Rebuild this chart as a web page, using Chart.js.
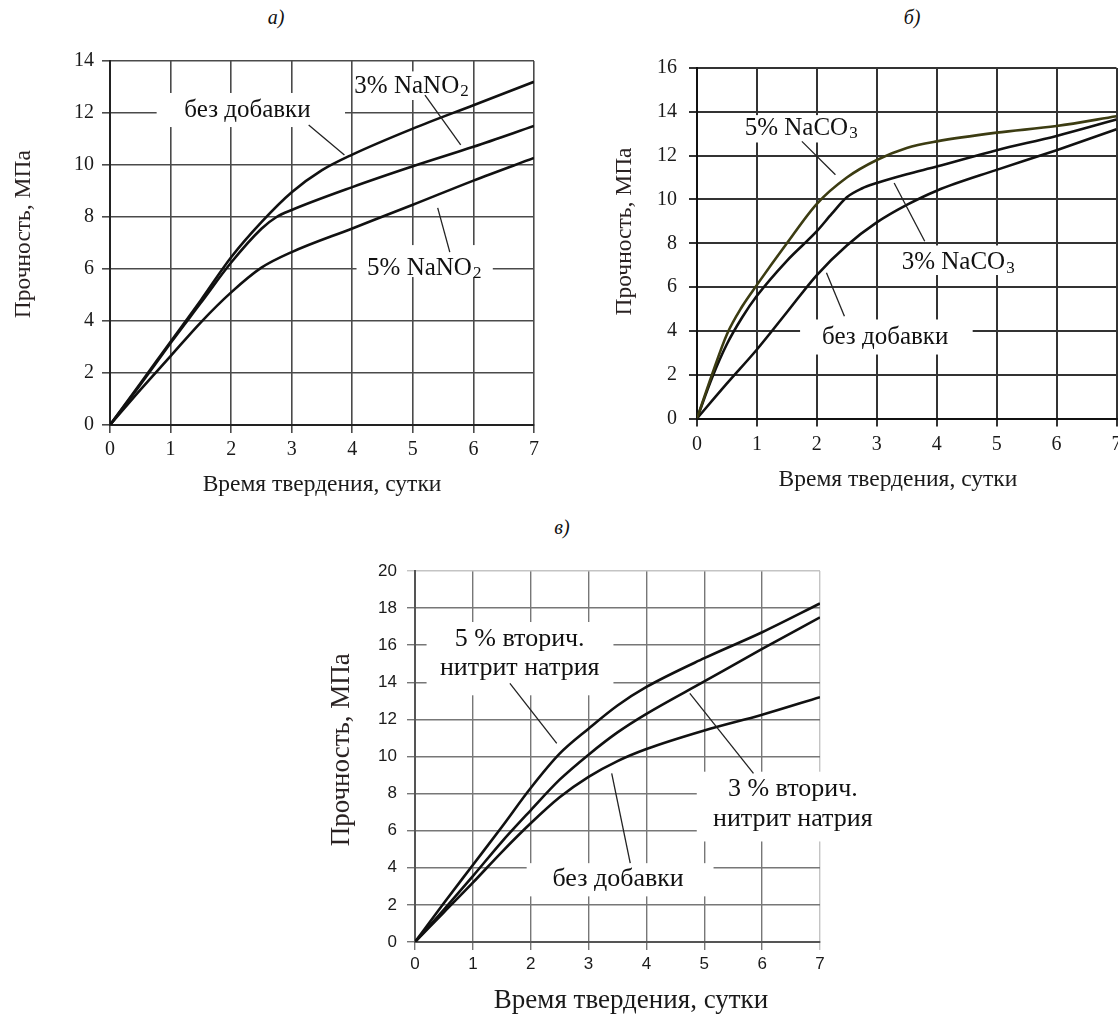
<!DOCTYPE html>
<html>
<head>
<meta charset="utf-8">
<script src="https://cdn.jsdelivr.net/npm/chart.js@4.4.1/dist/chart.umd.min.js"></script>
<style>
  body { margin: 0; width: 1118px; height: 1015px; overflow: hidden; background: #fff; position: relative; }
  canvas { position: absolute; }
  .cap { position: absolute; width: 80px; text-align: center; font: italic 20px 'Liberation Serif', serif; color: #111; }
</style>
</head>
<body>
<div class="cap" style="left:236px;top:6px">а)</div>
<div class="cap" style="left:872px;top:6px">б)</div>
<div class="cap" style="left:522px;top:516px">в)</div>
<canvas id="chA"></canvas>
<canvas id="chB"></canvas>
<canvas id="chC"></canvas>
<script>
const dayTicks = [0, 1, 2, 3, 4, 5, 6, 7];
const aTicks = [0, 2, 4, 6, 8, 10, 12, 14];
const bTicks = [0, 2, 4, 6, 8, 10, 12, 14, 16];
const cTicks = [0, 2, 4, 6, 8, 10, 12, 14, 16, 18, 20];

// а) NaNO2
const aNoneX = [0, 0.5, 1, 1.5, 2, 2.5, 3, 3.5, 4, 5, 6, 7];
const aNoneY = [0, 1.6, 3.2, 4.8, 6.45, 7.8, 8.95, 9.8, 10.4, 11.4, 12.3, 13.2];
const aN3X = [0, 0.5, 1, 1.5, 2, 2.5, 2.75, 3, 4, 5, 6, 7];
const aN3Y = [0, 1.55, 3.15, 4.7, 6.25, 7.55, 8.0, 8.27, 9.15, 9.95, 10.7, 11.5];
const aN5X = [0, 0.5, 1, 1.5, 2, 2.5, 3, 4, 5, 6, 7];
const aN5Y = [0, 1.35, 2.65, 3.95, 5.1, 6.05, 6.65, 7.56, 8.47, 9.4, 10.27];

// б) NaCO3
const bC5X = [0, 0.25, 0.5, 0.75, 1, 1.5, 2, 2.5, 3, 3.5, 4, 5, 6, 7];
const bC5Y = [0, 2.0, 3.85, 5.1, 6.1, 8.0, 9.8, 11.0, 11.8, 12.35, 12.65, 13.05, 13.35, 13.8];
const bC3X = [0, 0.25, 0.5, 0.75, 1, 1.5, 2, 2.25, 2.5, 2.75, 3, 3.5, 4, 5, 6, 7];
const bC3Y = [0, 1.85, 3.4, 4.6, 5.6, 7.2, 8.55, 9.35, 10.1, 10.5, 10.75, 11.15, 11.5, 12.25, 12.9, 13.65];
const bNoneX = [0, 0.5, 1, 1.5, 2, 2.5, 3, 3.5, 4, 5, 6, 7];
const bNoneY = [0, 1.6, 3.15, 4.85, 6.55, 7.9, 8.95, 9.75, 10.4, 11.35, 12.25, 13.2];

// в) secondary sodium nitrite
const cDays = [0, 0.5, 1, 1.5, 2, 2.5, 3, 3.5, 4, 5, 6, 7];
const cS5 = [0, 2.1, 4.15, 6.2, 8.3, 10.15, 11.5, 12.75, 13.75, 15.3, 16.7, 18.25];
const cS3 = [0, 1.75, 3.55, 5.4, 7.1, 8.75, 10.1, 11.3, 12.3, 14.05, 15.8, 17.5];
const cNone = [0, 1.6, 3.2, 4.85, 6.4, 7.8, 8.9, 9.75, 10.4, 11.4, 12.25, 13.2];

const serif = "'Liberation Serif', 'Times New Roman', serif";
const sans = "'Liberation Sans', Arial, sans-serif";

const notesPlugin = {
  id: 'notes',
  beforeDatasetsDraw(chart, args, o) {
    const { ctx } = chart, x = chart.scales.x, y = chart.scales.y;
    ctx.save();
    ctx.fillStyle = '#fff';
    for (const b of o.boxes) {
      const l = x.getPixelForValue(b[0]), r = x.getPixelForValue(b[1]);
      const t = y.getPixelForValue(b[3]), bt = y.getPixelForValue(b[2]);
      ctx.fillRect(l, t, r - l, bt - t);
    }
    ctx.restore();
  },
  afterDatasetsDraw(chart, args, o) {
    const { ctx } = chart, x = chart.scales.x, y = chart.scales.y;
    ctx.save();
    ctx.strokeStyle = '#222';
    ctx.lineWidth = 1.3;
    for (const s of o.leaders) {
      ctx.beginPath();
      ctx.moveTo(x.getPixelForValue(s[0]), y.getPixelForValue(s[1]));
      ctx.lineTo(x.getPixelForValue(s[2]), y.getPixelForValue(s[3]));
      ctx.stroke();
    }
    ctx.fillStyle = '#111';
    ctx.textBaseline = 'middle';
    ctx.textAlign = 'left';
    const main = o.size + 'px ' + serif;
    const small = Math.round(o.size * 0.66) + 'px ' + serif;
    for (const n of o.texts) {
      ctx.font = main;
      const w1 = ctx.measureText(n.t).width;
      ctx.font = small;
      const w2 = n.sub ? ctx.measureText(n.sub).width : 0;
      const px = x.getPixelForValue(n.x) - (w1 + w2) / 2;
      const py = y.getPixelForValue(n.y);
      ctx.font = main;
      ctx.fillText(n.t, px, py);
      if (n.sub) {
        ctx.font = small;
        ctx.fillText(n.sub, px + w1 + 1, py + o.size * 0.24);
      }
    }
    ctx.restore();
  }
};

function build(id, f, yTicks, sets, notes, look) {
  const cv = document.getElementById(id);
  cv.width = f.w;
  cv.height = f.h;
  cv.style.left = f.x + 'px';
  cv.style.top = f.y + 'px';
  const tickFont = { family: look.tickFamily, size: look.tickSize };
  const titleFont = { family: serif, size: look.titleSize };
  return new Chart(cv, {
    type: 'line',
    data: {
      datasets: sets.map(s => ({
        data: s.xs.map((v, i) => ({ x: v, y: s.ys[i] })),
        borderColor: s.color || '#111',
        borderWidth: 2.6,
        pointRadius: 0,
        fill: false,
        cubicInterpolationMode: 'monotone'
      }))
    },
    options: {
      responsive: false,
      animation: false,
      devicePixelRatio: 1,
      layout: { padding: { left: 0, top: f.top - f.y, right: f.x + f.w - f.right, bottom: 0 } },
      plugins: { legend: { display: false }, tooltip: { enabled: false }, notes },
      scales: {
        x: {
          type: 'linear', min: 0, max: 7,
          afterBuildTicks: s => { s.ticks = dayTicks.map(v => ({ value: v })); },
          afterFit: s => { s.height = f.y + f.h - f.bottom; },
          ticks: { font: tickFont, color: '#1a1a1a', padding: look.xPad, maxRotation: 0 },
          grid: { color: look.gridX, lineWidth: look.gridW, tickLength: 8 },
          border: { color: look.axis, width: 2 },
          title: {
            display: true,
            text: ' '.repeat(look.xLead) + 'Время твердения, сутки' + ' '.repeat(look.xTrail),
            font: titleFont, color: '#1a1a1a', padding: { top: 0, bottom: 0 }
          }
        },
        y: {
          min: 0, max: yTicks[yTicks.length - 1],
          afterBuildTicks: s => { s.ticks = yTicks.map(v => ({ value: v })); },
          afterFit: s => { s.width = f.left - f.x; },
          ticks: { font: tickFont, color: '#1a1a1a', padding: look.yPad },
          grid: { color: look.gridY, lineWidth: look.gridW, tickLength: 8 },
          border: { color: look.axis, width: 2 },
          title: { display: true, text: ' '.repeat(look.yShift) + 'Прочность, МПа', font: titleFont, color: '#2a2222', padding: { top: look.yTitlePad, bottom: 0 } }
        }
      }
    },
    plugins: [notesPlugin]
  });
}

build('chA', { x: 0, y: 30, w: 560, h: 469, left: 110, top: 61, right: 534, bottom: 425 }, aTicks, [
  { xs: aNoneX, ys: aNoneY },
  { xs: aN3X, ys: aN3Y },
  { xs: aN5X, ys: aN5Y }
], {
  size: 25,
  boxes: [[0.77, 3.88, 11.46, 12.77], [4.05, 5.95, 12.5, 13.6], [4.07, 6.32, 5.69, 6.92]],
  leaders: [[3.28, 11.54, 3.87, 10.38], [5.2, 12.69, 5.79, 10.77], [5.41, 8.35, 5.61, 6.65]],
  texts: [
    { x: 2.27, y: 12.1, t: 'без добавки' },
    { x: 4.97, y: 13.04, t: '3% NaNO', sub: '2' },
    { x: 5.18, y: 6.04, t: '5% NaNO', sub: '2' }
  ]
}, { tickFamily: serif, tickSize: 20, titleSize: 23.5, xPad: 5, yPad: 8, gridX: '#4a4a4a', gridY: '#4a4a4a', gridW: 1.6, axis: '#222', yTitlePad: 10, yShift: 3, xLead: 0, xTrail: 0 });

build('chB', { x: 560, y: 30, w: 580, h: 464, left: 697, top: 68, right: 1116.5, bottom: 418.5 }, bTicks, [
  { xs: bC5X, ys: bC5Y, color: '#3c3c12' },
  { xs: bC3X, ys: bC3Y },
  { xs: bNoneX, ys: bNoneY }
], {
  size: 25,
  boxes: [[0.75, 2.72, 12.6, 13.85], [3.3, 5.4, 6.55, 7.9], [1.72, 4.6, 2.92, 4.52]],
  leaders: [[1.75, 12.65, 2.31, 11.13], [3.29, 10.75, 3.8, 8.09], [2.16, 6.65, 2.46, 4.67]],
  texts: [
    { x: 1.73, y: 13.26, t: '5% NaCO', sub: '3' },
    { x: 4.35, y: 7.14, t: '3% NaCO', sub: '3' },
    { x: 3.14, y: 3.68, t: 'без добавки' }
  ]
}, { tickFamily: serif, tickSize: 20, titleSize: 23.5, xPad: 6, yPad: 12, gridX: '#333', gridY: '#333', gridW: 2, axis: '#111', yTitlePad: 51, yShift: 4, xLead: 0, xTrail: 3 });

build('chC', { x: 320, y: 550, w: 580, h: 467, left: 415, top: 571, right: 820, bottom: 942 }, cTicks, [
  { xs: cDays, ys: cS5 },
  { xs: cDays, ys: cS3 },
  { xs: cDays, ys: cNone }
], {
  size: 26,
  boxes: [[0.2, 3.43, 13.3, 17.25], [4.87, 7.95, 5.42, 9.18], [1.93, 5.16, 2.46, 4.25]],
  leaders: [[1.64, 13.94, 2.45, 10.71], [4.75, 13.4, 5.85, 9.09], [3.4, 9.09, 3.72, 4.25]],
  texts: [
    { x: 1.81, y: 16.32, t: '5 % вторич.' },
    { x: 1.81, y: 14.74, t: 'нитрит натрия' },
    { x: 6.53, y: 8.25, t: '3 % вторич.' },
    { x: 6.53, y: 6.62, t: 'нитрит натрия' },
    { x: 3.51, y: 3.37, t: 'без добавки' }
  ]
}, {
  tickFamily: sans, tickSize: 17, titleSize: 27, xPad: 4, yPad: 10,
  gridX: c => (c.tick && c.tick.value === 7 ? '#c4c4c4' : '#777'),
  gridY: c => (c.tick && c.tick.value === 20 ? '#c4c4c4' : '#777'),
  gridW: 1.4, axis: '#555', yTitlePad: 6, yShift: 2, xLead: 4, xTrail: 0
});
</script>
</body>
</html>
